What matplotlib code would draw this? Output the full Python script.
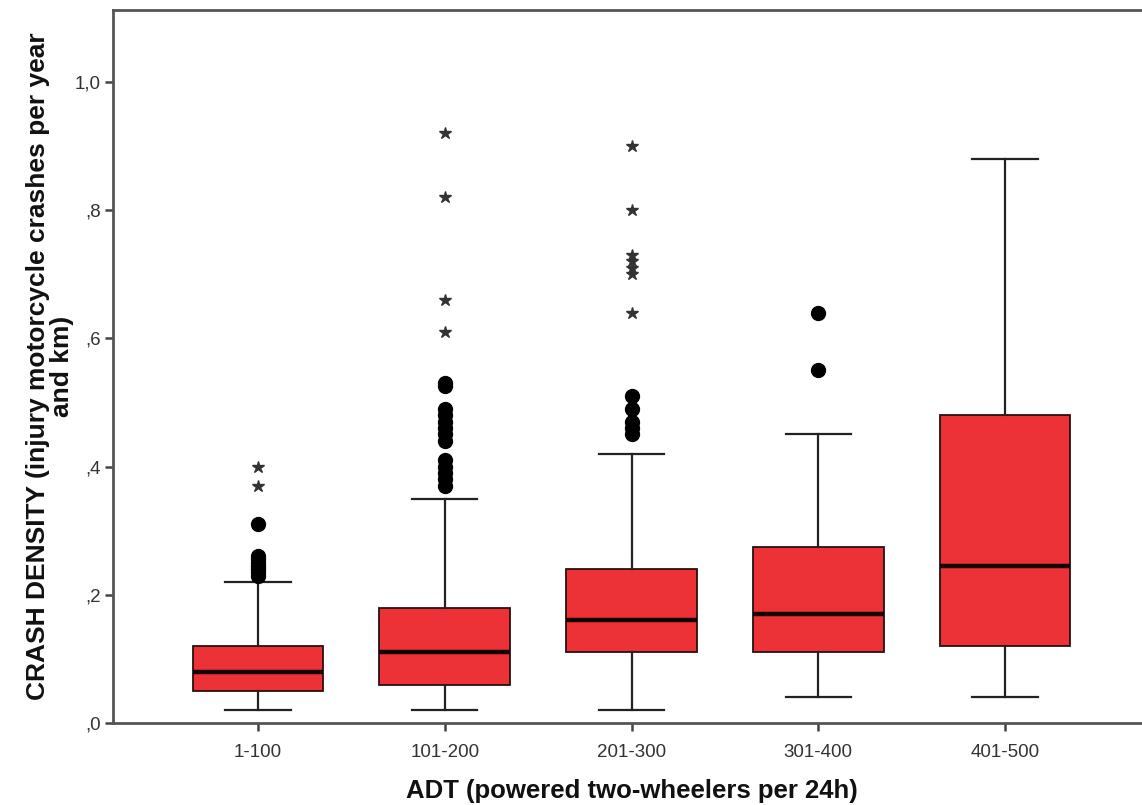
import matplotlib
matplotlib.use('Agg')
import matplotlib.pyplot as plt
from matplotlib.ticker import FixedLocator, FuncFormatter

plt.rcParams['font.family'] = ['Liberation Sans', 'DejaVu Sans']

# ADT classes
categories = ['1-100', '101-200', '201-300', '301-400', '401-500']

# box statistics
whis_low = [0.02, 0.02, 0.02, 0.04, 0.04]
q1 = [0.05, 0.06, 0.11, 0.11, 0.12]
median = [0.08, 0.11, 0.16, 0.17, 0.245]
q3 = [0.12, 0.18, 0.24, 0.275, 0.48]
whis_high = [0.22, 0.35, 0.42, 0.45, 0.88]

# outliers (circles) and extreme values (stars)
circles = [
    [0.23, 0.235, 0.24, 0.245, 0.25, 0.255, 0.26, 0.31],
    [0.37, 0.38, 0.39, 0.40, 0.41, 0.44, 0.45, 0.46, 0.47, 0.48, 0.49, 0.525, 0.53],
    [0.45, 0.46, 0.47, 0.49, 0.51],
    [0.55, 0.64],
    [],
]
stars = [
    [0.37, 0.40],
    [0.61, 0.66, 0.82, 0.92],
    [0.64, 0.70, 0.71, 0.72, 0.73, 0.80, 0.90],
    [],
    [],
]

y_ticks = [0.0, 0.2, 0.4, 0.6, 0.8, 1.0]

fig = plt.figure(figsize=(11.42, 8.05), dpi=100)
ax = fig.add_axes([113 / 1142, 1 - 723 / 805, 1037 / 1142, 713 / 805])

stats = []
for i, name in enumerate(categories):
    stats.append({'label': name, 'whislo': whis_low[i], 'q1': q1[i], 'med': median[i],
                  'q3': q3[i], 'whishi': whis_high[i], 'fliers': []})

positions = range(1, len(categories) + 1)
ax.bxp(stats, positions=positions, widths=0.7, capwidths=0.35, patch_artist=True,
       showfliers=False,
       boxprops=dict(facecolor='#ED3237', edgecolor='#2a1010', linewidth=1.3),
       medianprops=dict(color='#150000', linewidth=3.2),
       whiskerprops=dict(color='#222222', linewidth=1.6),
       capprops=dict(color='#222222', linewidth=1.6))

for pos, vals in zip(positions, circles):
    ax.plot([pos] * len(vals), vals, 'o', color='black', markersize=10, zorder=3)
for pos, vals in zip(positions, stars):
    ax.plot([pos] * len(vals), vals, '*', color='#333333', markersize=9, zorder=3)

ax.set_xlim(0.2236, 5.776)
ax.set_ylim(0, 1.112)

ax.yaxis.set_major_locator(FixedLocator(y_ticks))
ax.yaxis.set_major_formatter(FuncFormatter(lambda v, p: ('%.1f' % v).replace('0.', ',').replace('1.', '1,')))
ax.set_xticks(list(positions))
ax.set_xticklabels(categories)

for side in ['left', 'bottom', 'top', 'right']:
    ax.spines[side].set_color('#555555')
    ax.spines[side].set_linewidth(2.0)

ax.tick_params(axis='both', direction='out', length=6, width=1.8, color='#444444',
               labelsize=13.5, labelcolor='#333333')
ax.tick_params(axis='y', pad=3)
ax.tick_params(axis='x', pad=9)

ax.set_xlabel('ADT (powered two-wheelers per 24h)', fontsize=18.5, fontweight='bold',
              color='#111111', labelpad=13)
ax.set_ylabel('CRASH DENSITY (injury motorcycle crashes per year\nand km)', fontsize=19,
              fontweight='bold', color='#111111', labelpad=0, linespacing=1.0)

fig.savefig('out.png', dpi=100, facecolor='white')
